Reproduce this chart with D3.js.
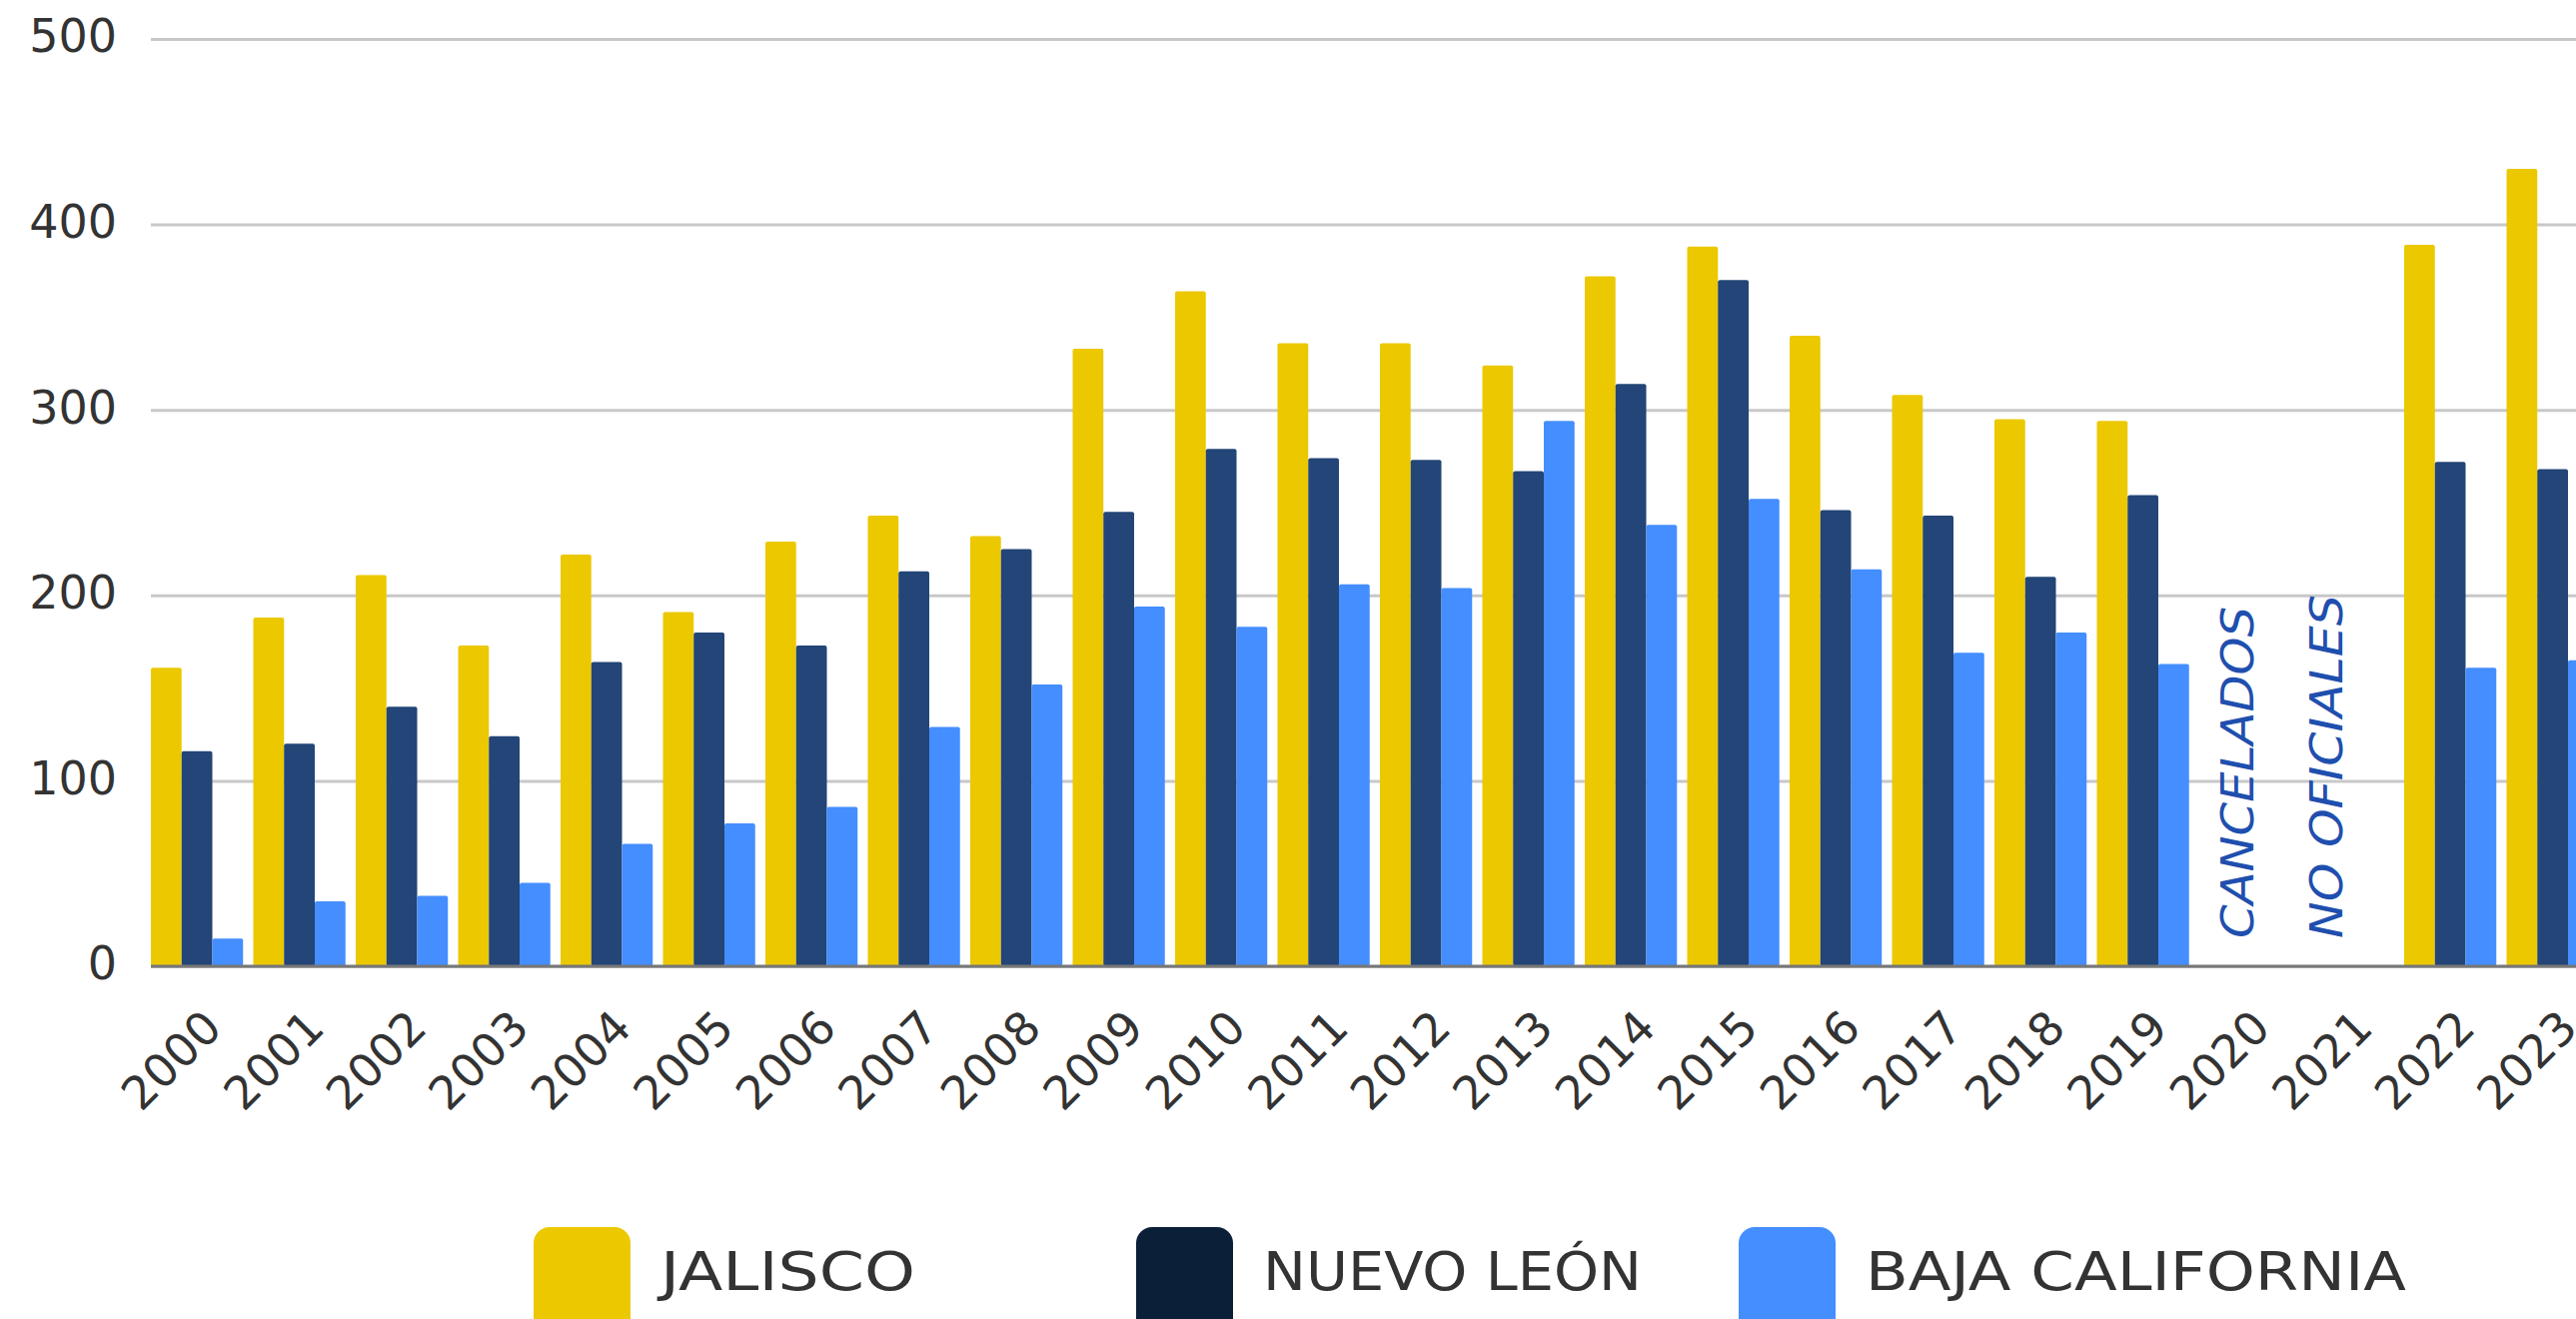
<!DOCTYPE html>
<html>
<head>
<meta charset="utf-8">
<script src="https://cdn.jsdelivr.net/npm/d3@7"></script>
<style>
  body { margin: 0; background: #fff; }
  svg { display: block; }
</style>
</head>
<body>
<div id="chart"></div>
<script>
// Data
const years = ["2000", "2001", "2002", "2003", "2004", "2005", "2006", "2007", "2008", "2009", "2010", "2011",
  "2012", "2013", "2014", "2015", "2016", "2017", "2018", "2019", "2020", "2021", "2022", "2023"];
const jalisco = [161, 188, 211, 173, 222, 191, 229, 243, 232, 333, 364, 336,
  336, 324, 372, 388, 340, 308, 295, 294, null, null, 389, 430];
const nuevoLeon = [116, 120, 140, 124, 164, 180, 173, 213, 225, 245, 279, 274,
  273, 267, 314, 370, 246, 243, 210, 254, null, null, 272, 268];
const bajaCalifornia = [15, 35, 38, 45, 66, 77, 86, 129, 152, 194, 183, 206,
  204, 294, 238, 252, 214, 169, 180, 163, null, null, 161, 165];
const seriesNames = ["JALISCO", "NUEVO LEÓN", "BAJA CALIFORNIA"];
const yTicks = [0, 100, 200, 300, 400, 500];
const noteYears = ["2020", "2021"];
const noteTexts = ["CANCELADOS", "NO OFICIALES"];

const width = 2578;
const height = 1320;
const left = 151;
const step = 102.5;

const barColors = ["#ecc800", "#234577", "#448eff"];
const legendColors = ["#ecc800", "#0c1f38", "#448eff"];
const font = "'DejaVu Sans', sans-serif";

const svg = d3
  .select("#chart")
  .append("svg")
  .attr("width", width)
  .attr("height", height);

// Scales (the last group runs past the right edge, as in the reference)
const xScale = d3
  .scaleBand()
  .domain(years)
  .range([left, left + step * (years.length - 0.1)])
  .paddingInner(0.1)
  .paddingOuter(0);

const xSub = d3
  .scaleBand()
  .domain(seriesNames)
  .range([0, xScale.bandwidth()]);

const yScale = d3.scaleLinear().domain([0, 500]).range([967, 39]);

// Gridlines + y labels
const yAxis = d3
  .axisLeft(yScale)
  .tickValues(yTicks)
  .tickSize(-(width - left))
  .tickPadding(34);

const yAxisGroup = svg
  .append("g")
  .attr("transform", `translate(${left},0)`)
  .call(yAxis);

yAxisGroup.select(".domain").remove();
yAxisGroup.selectAll(".tick line").attr("stroke", "#c8c8c8").attr("stroke-width", 3);
yAxisGroup
  .selectAll(".tick text")
  .attr("fill", "#333333")
  .attr("font-family", font)
  .attr("font-size", 46)
  .attr("dy", "0.28em");

// Bars
const rows = years.map((year, i) => ({
  year: year,
  values: [jalisco[i], nuevoLeon[i], bajaCalifornia[i]]
}));

svg
  .append("g")
  .selectAll("g")
  .data(rows)
  .join("g")
  .attr("transform", (d) => `translate(${xScale(d.year)},0)`)
  .selectAll("rect")
  .data((d) =>
    d.values
      .map((v, k) => ({ name: seriesNames[k], value: v, k: k }))
      .filter((e) => e.value !== null)
  )
  .join("rect")
  .attr("x", (d) => xSub(d.name))
  .attr("y", (d) => yScale(d.value))
  .attr("width", xSub.bandwidth())
  .attr("height", (d) => yScale(0) - yScale(d.value))
  .attr("rx", 2)
  .attr("fill", (d) => barColors[d.k]);

// Baseline
svg
  .append("line")
  .attr("x1", left)
  .attr("x2", width)
  .attr("y1", yScale(0))
  .attr("y2", yScale(0))
  .attr("stroke", "#777777")
  .attr("stroke-width", 3);

// Year labels, rotated
svg
  .append("g")
  .selectAll("text")
  .data(years)
  .join("text")
  .attr("transform", (d) =>
    `translate(${xScale(d) + xScale.bandwidth() / 2 + 27},${yScale(0) + 64}) rotate(-45)`)
  .attr("text-anchor", "end")
  .attr("font-family", font)
  .attr("font-size", 46)
  .attr("fill", "#333333")
  .text((d) => d);

// Notes for the missing years
const noteShift = [8, -6];
const noteLength = [332, 344];
svg
  .append("g")
  .selectAll("text")
  .data(noteTexts)
  .join("text")
  .attr("transform", (d, i) =>
    `translate(${xScale(noteYears[i]) + xScale.bandwidth() / 2 + noteShift[i]},${yScale(0) - 28}) rotate(-90)`)
  .attr("font-family", font)
  .attr("font-style", "italic")
  .attr("font-size", 45)
  .attr("fill", "#1f4fae")
  .attr("textLength", (d, i) => noteLength[i])
  .attr("lengthAdjust", "spacingAndGlyphs")
  .text((d) => d);

// Legend
const legendX = [534, 1137, 1740];
const legendLength = [255, 379, 541];
const legend = svg
  .append("g")
  .selectAll("g")
  .data(seriesNames)
  .join("g")
  .attr("transform", (d, i) => `translate(${legendX[i]},1228)`);

legend
  .append("rect")
  .attr("width", 97)
  .attr("height", 130)
  .attr("rx", 16)
  .attr("fill", (d, i) => legendColors[i]);

legend
  .append("text")
  .attr("x", 127)
  .attr("y", 63)
  .attr("font-family", font)
  .attr("font-size", 53)
  .attr("fill", "#333333")
  .attr("textLength", (d, i) => legendLength[i])
  .attr("lengthAdjust", "spacingAndGlyphs")
  .text((d) => d);
</script>
</body>
</html>
